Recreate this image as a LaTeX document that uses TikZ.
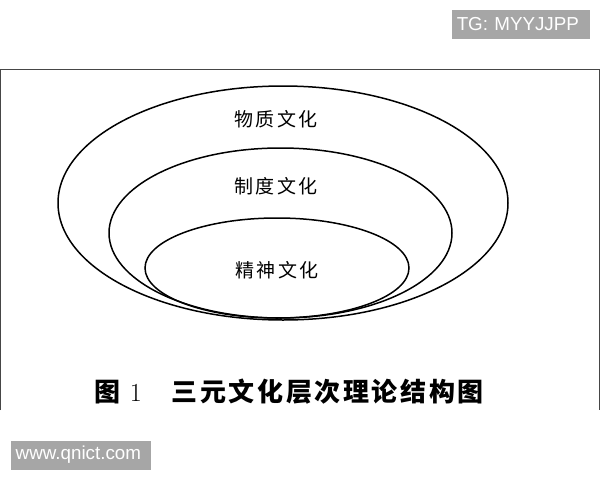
\documentclass[tikz,border=0pt]{standalone}
\usepackage{fontspec}
\setsansfont{Liberation Sans}
\newfontfamily\cjklbl{Noto Sans CJK SC}[LetterSpace=12]
\newfontfamily\cjkcap{Noto Sans CJK SC}[LetterSpace=10]
\definecolor{wmgray}{RGB}{166,166,166}
\definecolor{framegray}{RGB}{70,70,70}

\begin{document}
\begin{tikzpicture}[x=1pt,y=-1pt,line width=1.5pt,
  lbl/.style={font={\cjklbl\fontsize{19}{19}\selectfont},inner sep=0pt},
  captext/.style={font={\cjkcap\bfseries\fontsize{26}{26}\selectfont},inner sep=0pt,anchor=west},
  wmark/.style={fill=wmgray,text=white,font={\sffamily\fontsize{18.8}{18.8}\selectfont},
    inner xsep=5pt,inner ysep=0pt,minimum height=29pt,align=left,anchor=west}]
\useasboundingbox (0,0) rectangle (600,480);
\draw[framegray,line width=1.2pt] (0.6,410) -- (0.6,69.6) -- (599.4,69.6) -- (599.4,410);
\draw (283,203) ellipse (225pt and 117pt);
\draw (280.5,233) ellipse (171.5pt and 85pt);
\draw (277,268) ellipse (132pt and 50pt);
\node[lbl] (wuzhi) at (276,119) {物质文化};
\node[lbl] (zhidu) at (276,186) {制度文化};
\node[lbl] (jingshen) at (277,270) {精神文化};
\node[captext] (fignum) at (94,392) {图\hspace{9pt}{\rmfamily\mdseries 1}};
\node[captext] (figtitle) at (171,392) {三元文化层次理论结构图};
\node[wmark,text width=128pt] (tg) at (451,24.5) {TG: MYYJJPP};
\node[wmark,text width=130pt] (site) at (10,455) {www.qnict.com};
\end{tikzpicture}
\end{document}
